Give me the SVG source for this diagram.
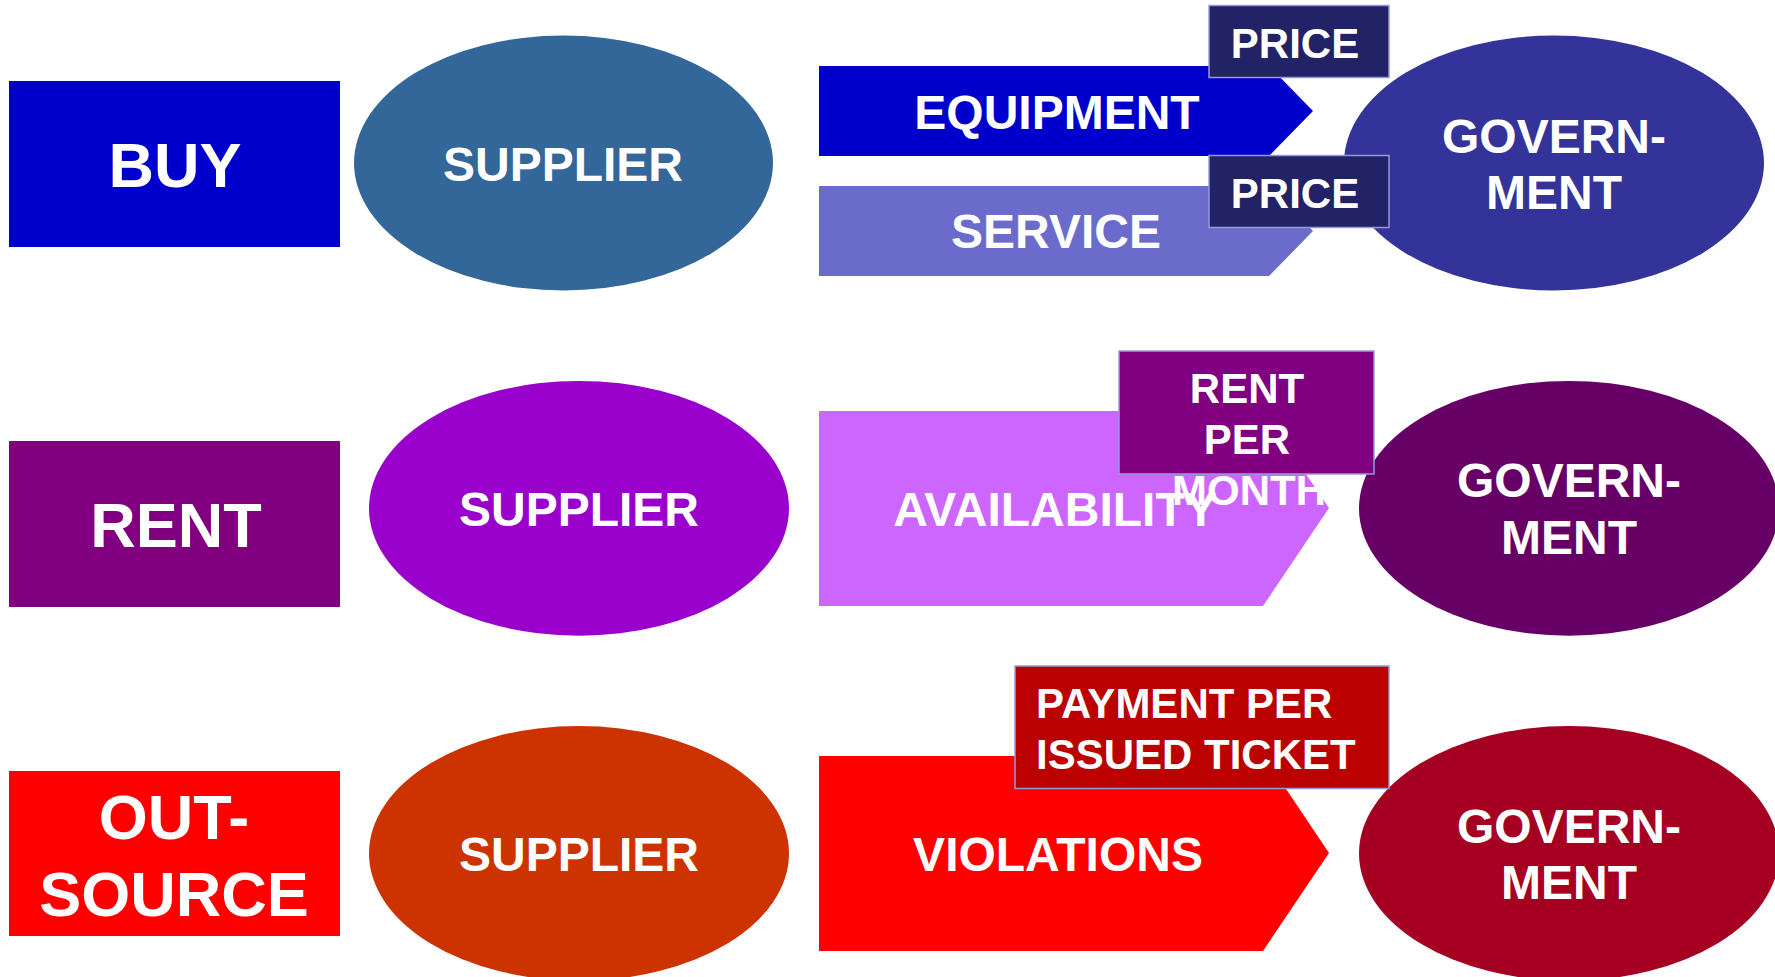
<svg xmlns="http://www.w3.org/2000/svg" width="1775" height="977" viewBox="0 0 1775 977">
<style>
text{font-family:"Liberation Sans",Arial,sans-serif;font-weight:bold;fill:#ffffff;text-anchor:middle}
.big{font-size:63px}
.mid{font-size:48px}
.lab{font-size:42px}
.box{stroke:#9999dd;stroke-width:1.5}
</style>
<rect width="1775" height="977" fill="#ffffff"/>
<g id="connectors">
  <g id="arrow-equipment">
    <polygon points="819,66 1269,66 1313,111 1269,156 819,156" fill="#0000cc"/>
    <text class="mid" x="1057" y="129">EQUIPMENT</text>
  </g>
  <g id="arrow-service">
    <polygon points="819,186 1269,186 1313,231 1269,276 819,276" fill="#6b6bcc"/>
    <text class="mid" x="1056" y="248">SERVICE</text>
  </g>
  <g id="arrow-availability">
    <polygon points="819,411 1263,411 1329,508 1263,606 819,606" fill="#cc66ff"/>
    <text class="mid" x="1055" y="526">AVAILABILITY</text>
  </g>
  <g id="arrow-violations">
    <polygon points="819,756 1264,756 1329,853 1263,951 819,951" fill="#ff0000"/>
    <text class="mid" x="1058" y="871">VIOLATIONS</text>
  </g>
</g>
<g id="buy">
  <rect x="9" y="81" width="331" height="166" fill="#0000cc"/>
  <text class="big" x="175" y="187">BUY</text>
</g>
<g id="supplier-1">
  <ellipse cx="563.5" cy="163" rx="209.5" ry="127.5" fill="#336699"/>
  <text class="mid" x="563" y="181">SUPPLIER</text>
</g>
<g id="government-1">
  <ellipse cx="1554" cy="163" rx="210" ry="127.5" fill="#333399"/>
  <text class="mid" x="1554" y="153">GOVERN-</text>
  <text class="mid" x="1554" y="209">MENT</text>
</g>
<g id="price-1">
  <rect class="box" x="1209" y="5.5" width="180" height="72" fill="#222266"/>
  <text class="lab" x="1295" y="57.5">PRICE</text>
</g>
<g id="price-2">
  <rect class="box" x="1209" y="155.5" width="180" height="72" fill="#222266"/>
  <text class="lab" x="1295" y="207.5">PRICE</text>
</g>
<g id="rent">
  <rect x="9" y="441" width="331" height="166" fill="#800080"/>
  <text class="big" x="176" y="547">RENT</text>
</g>
<g id="supplier-2">
  <ellipse cx="579" cy="508.3" rx="210" ry="127.4" fill="#9900cc"/>
  <text class="mid" x="579" y="526">SUPPLIER</text>
</g>
<g id="government-2">
  <ellipse cx="1569" cy="508.3" rx="210" ry="127.4" fill="#660066"/>
  <text class="mid" x="1569" y="497">GOVERN-</text>
  <text class="mid" x="1569" y="554">MENT</text>
</g>
<g id="rent-per-month">
  <rect class="box" x="1119" y="351" width="255" height="123" fill="#800080"/>
  <text class="lab" x="1247" y="403">RENT</text>
  <text class="lab" x="1247" y="454">PER</text>
  <text class="lab" x="1249" y="505">MONTH</text>
</g>
<g id="outsource">
  <rect x="9" y="771" width="331" height="165" fill="#ff0000"/>
  <text class="big" x="174" y="839">OUT-</text>
  <text class="big" x="174" y="916">SOURCE</text>
</g>
<g id="supplier-3">
  <ellipse cx="579" cy="853.4" rx="210" ry="127.4" fill="#cc3300"/>
  <text class="mid" x="579" y="871">SUPPLIER</text>
</g>
<g id="government-3">
  <ellipse cx="1569" cy="853.4" rx="210" ry="127.4" fill="#a50021"/>
  <text class="mid" x="1569" y="843">GOVERN-</text>
  <text class="mid" x="1569" y="899">MENT</text>
</g>
<g id="payment-per-ticket">
  <rect class="box" x="1015" y="666" width="374" height="122.5" fill="#bb0000"/>
  <text class="lab" x="1036" y="718" style="text-anchor:start">PAYMENT PER</text>
  <text class="lab" x="1036" y="769" style="text-anchor:start">ISSUED TICKET</text>
</g>
</svg>
